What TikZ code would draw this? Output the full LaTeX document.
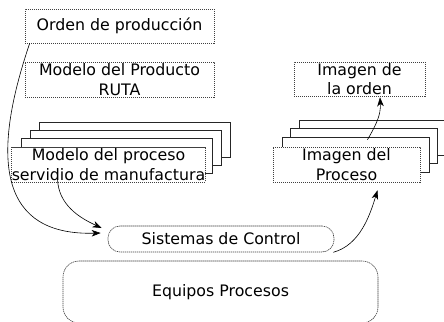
\documentclass[tikz,border=0pt]{standalone}
\usepackage{fontspec}
\setmainfont{DejaVu Sans}
\usetikzlibrary{arrows.meta}
\tikzset{
  txt/.style={font=\fontsize{15.8}{19.5}\selectfont, align=center},
  dbox/.style={txt, draw=black!75, line width=0.6pt, dash pattern=on 1.3pt off 0.7pt, fill=white, inner sep=0pt, minimum width=#1},
  sbox/.style={draw=black!85, line width=0.7pt, fill=white, inner sep=0pt, minimum width=#1, minimum height=35pt},
  rbox/.style={txt, draw=black!75, line width=0.6pt, dash pattern=on 1.3pt off 0.7pt, fill=white, inner sep=0pt},
  arr/.style={-{Stealth[length=9pt,width=6.5pt,inset=2.5pt]}, line width=0.6pt}
}
\begin{document}
\begin{tikzpicture}[x=1pt,y=-1pt]
\useasboundingbox (0,0) rectangle (444,321);
% top-left boxes
\node[dbox=189pt, minimum height=34pt] (orden) at (119.5,26) {Orden de producción};
\node[dbox=189pt, minimum height=35pt] (prod) at (119.5,79.5) {Modelo del Producto\\RUTA};
% left stack
\node[sbox=191pt] (l1) at (134.5,139.5) {};
\node[sbox=191pt] (l2) at (125.5,147.5) {};
\node[sbox=191pt] (l3) at (116.5,155.5) {};
\node[dbox=191pt, minimum height=35pt] (proc) at (108.5,164.5) {Modelo del proceso\\servidio de manufactura};
% right stack
\node[sbox=151pt] (r1) at (374.5,138) {};
\node[sbox=147pt] (r2) at (363.5,145.5) {};
\node[sbox=147pt] (r3) at (355.5,154.5) {};
\node[dbox=147pt, minimum height=35pt] (imgp) at (346.5,164.5) {Imagen del\\Proceso};
\node[dbox=131pt, minimum height=34pt] (imgo) at (359.5,79) {Imagen de\\la orden};
% bottom
\node[rbox, rounded corners=12pt, minimum width=226pt, minimum height=26pt] (ctrl) at (221,239) {Sistemas de Control};
\node[rbox, rounded corners=16pt, minimum width=315pt, minimum height=62pt] (equip) at (220.5,292) {Equipos Procesos};
% arrows
\coordinate (a1) at ([xshift=5pt]orden.south west);
\coordinate (t1) at ([xshift=-7pt,yshift=6pt]ctrl.west);
\draw[arr] (a1) .. controls (-10,160) and (0,236) .. (t1);
\coordinate (a2) at ([xshift=-51pt,yshift=4pt]proc.south);
\coordinate (t2) at ([xshift=-6pt,yshift=11pt]ctrl.west);
\draw[arr] (a2) .. controls (58,205) and (80,218) .. (t2);
\coordinate (a3) at ([xshift=-1pt]ctrl.south east);
\coordinate (t3) at ([xshift=31pt,yshift=-8pt]imgp.south);
\draw[arr] (a3) .. controls (360,245) and (370,215) .. (t3);
\coordinate (a4) at ([xshift=12pt,yshift=-3pt]r3.north);
\coordinate (t4) at ([xshift=20.5pt,yshift=-1pt]imgo.south);
\draw[arr] (a4) .. controls (376,125) and (381,115) .. (t4);
\end{tikzpicture}
\end{document}
